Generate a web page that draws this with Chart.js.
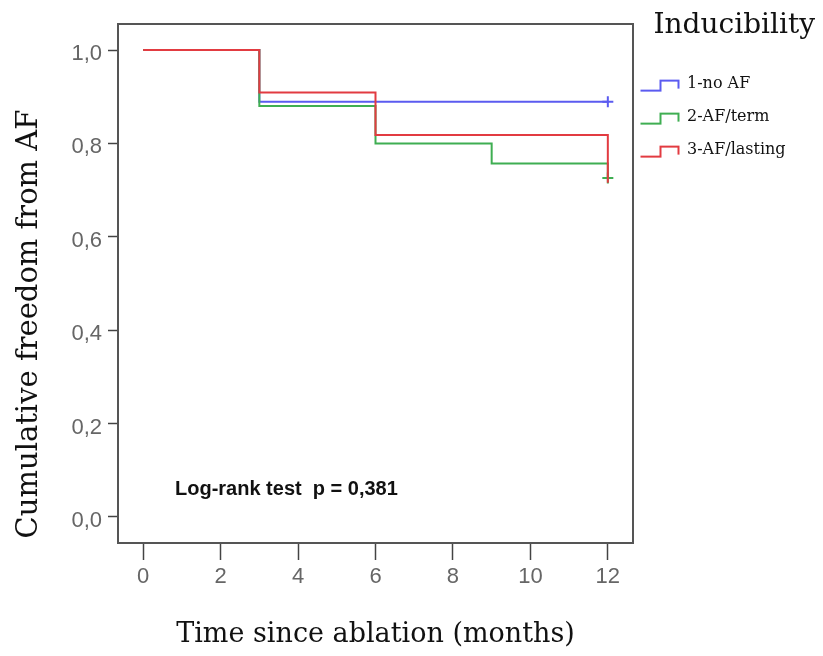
<!DOCTYPE html>
<html>
<head>
<meta charset="utf-8">
<script src="https://cdn.jsdelivr.net/npm/chart.js@4.4.1/dist/chart.umd.min.js"></script>
<style>
  html, body { margin: 0; padding: 0; background: #fff; }
  canvas { display: block; }
</style>
</head>
<body>
<canvas id="kmChart" width="823" height="656"></canvas>
<script>
// Kaplan-Meier curves, values
const xTicks = [0, 2, 4, 6, 8, 10, 12];
const yTicks = [0, 0.2, 0.4, 0.6, 0.8, 1.0];

const groupNames = ['1-no AF', '2-AF/term', '3-AF/lasting'];

const noAfMonths = [0, 3, 12];
const noAfFree = [1, 0.889, 0.889];
const noAfCensored = [12];

const termMonths = [0, 3, 6, 9, 12];
const termFree = [1, 0.88, 0.80, 0.757, 0.726];
const termCensored = [12];

const lastingMonths = [0, 3, 6, 12];
const lastingFree = [1, 0.909, 0.818, 0.716];
const lastingCensored = [];

const pValueText = 'Log-rank test  p = 0,381';

const SERIF = 'DejaVu Serif';
const SANS = 'Liberation Sans';

// one step curve per group, "+" only where a case was censored
function kmDataset(label, months, values, censored, color, order) {
    return {
        label: label,
        data: months.map((m, i) => ({ x: m, y: values[i] })),
        stepped: 'before',
        borderColor: color,
        backgroundColor: color,
        borderWidth: 2,
        fill: false,
        order: order,
        pointStyle: 'cross',
        pointRadius: ctx => censored.includes(months[ctx.dataIndex]) ? 5.5 : 0,
        pointBorderWidth: 2,
        pointHoverRadius: 0,
    };
}

// small step drawing used as legend symbol (like SPSS)
function stepIcon(color) {
    const c = document.createElement('canvas');
    c.width = 50;
    c.height = 20;
    const g = c.getContext('2d');
    g.strokeStyle = color;
    g.lineWidth = 2;
    g.beginPath();
    g.moveTo(1, 17);
    g.lineTo(21, 17);
    g.lineTo(21, 7);
    g.lineTo(39, 7);
    g.lineTo(39, 15);
    g.stroke();
    return c;
}

const colors = ['#5b5bf0', '#3fae52', '#e23b41'];
const stepIcons = colors.map(stepIcon);

const kmPlugin = {
    id: 'kmExtras',
    afterLayout(chart) {
        // let the legend reach the right edge so its title lines up at the end
        const lg = chart.legend;
        lg.right = chart.width - 8;
        lg.width = lg.right - lg.left;
    },
    afterDatasetsDraw(chart) {
        const { ctx, chartArea: a } = chart;
        ctx.save();
        ctx.strokeStyle = '#555';
        ctx.lineWidth = 2;
        ctx.strokeRect(a.left, a.top, a.right - a.left, a.bottom - a.top);

        ctx.fillStyle = '#111';
        ctx.font = 'bold 20px ' + SANS;
        ctx.textBaseline = 'alphabetic';
        ctx.textAlign = 'left';
        ctx.fillText(pValueText, 175, 495);

        ctx.translate(29, 324);
        ctx.rotate(-Math.PI / 2);
        ctx.textAlign = 'center';
        ctx.textBaseline = 'middle';
        ctx.font = '29px ' + SERIF;
        ctx.fillText('Cumulative freedom from AF', 0, 0);
        ctx.restore();
    }
};

const ctx = document.getElementById('kmChart').getContext('2d');
new Chart(ctx, {
    type: 'line',
    data: {
        datasets: [
            kmDataset(groupNames[0], noAfMonths, noAfFree, noAfCensored, colors[0], 2),
            kmDataset(groupNames[1], termMonths, termFree, termCensored, colors[1], 1),
            kmDataset(groupNames[2], lastingMonths, lastingFree, lastingCensored, colors[2], 0),
        ],
    },
    options: {
        responsive: false,
        animation: false,
        devicePixelRatio: 1,
        events: [],
        layout: { padding: 0 },
        scales: {
            x: {
                type: 'linear',
                min: -0.65,
                max: 12.65,
                afterBuildTicks: scale => { scale.ticks = xTicks.map(v => ({ value: v })); },
                afterFit: scale => { scale.height = 113; scale.paddingRight = 190; },
                border: { display: false },
                grid: { drawOnChartArea: false, tickLength: 17, tickColor: '#444', tickWidth: 1.5 },
                ticks: {
                    padding: 4,
                    color: '#666',
                    maxRotation: 0,
                    font: { family: SANS, size: 22 },
                },
                title: {
                    display: true,
                    text: 'Time since ablation (months)',
                    color: '#111',
                    font: { family: SERIF, size: 27 },
                    padding: { top: 0, bottom: 5 },
                },
            },
            y: {
                type: 'linear',
                min: -0.0557,
                max: 1.0557,
                afterBuildTicks: scale => { scale.ticks = yTicks.map(v => ({ value: v })); },
                afterFit: scale => { scale.width = 118; scale.paddingTop = 24; },
                border: { display: false },
                grid: { drawOnChartArea: false, tickLength: 10, tickColor: '#444', tickWidth: 1.5 },
                ticks: {
                    padding: 6,
                    color: '#666',
                    labelOffset: 4,
                    font: { family: SANS, size: 22 },
                    callback: v => v.toFixed(1).replace('.', ','),
                },
            },
        },
        plugins: {
            tooltip: { enabled: false },
            legend: {
                position: 'right',
                align: 'start',
                title: {
                    display: true,
                    text: 'Inducibility',
                    position: 'end',
                    color: '#111',
                    font: { family: SERIF, size: 28 },
                    padding: { top: 12, bottom: 13 },
                },
                labels: {
                    usePointStyle: true,
                    pointStyleWidth: 29,
                    padding: 17,
                    color: '#111',
                    font: { family: SERIF, size: 16 },
                    sort: (a, b) => a.datasetIndex - b.datasetIndex,
                    generateLabels: chart => Chart.defaults.plugins.legend.labels.generateLabels(chart)
                        .map(item => Object.assign(item, { pointStyle: stepIcons[item.datasetIndex] })),
                },
            },
        },
    },
    plugins: [kmPlugin],
});
</script>
</body>
</html>
